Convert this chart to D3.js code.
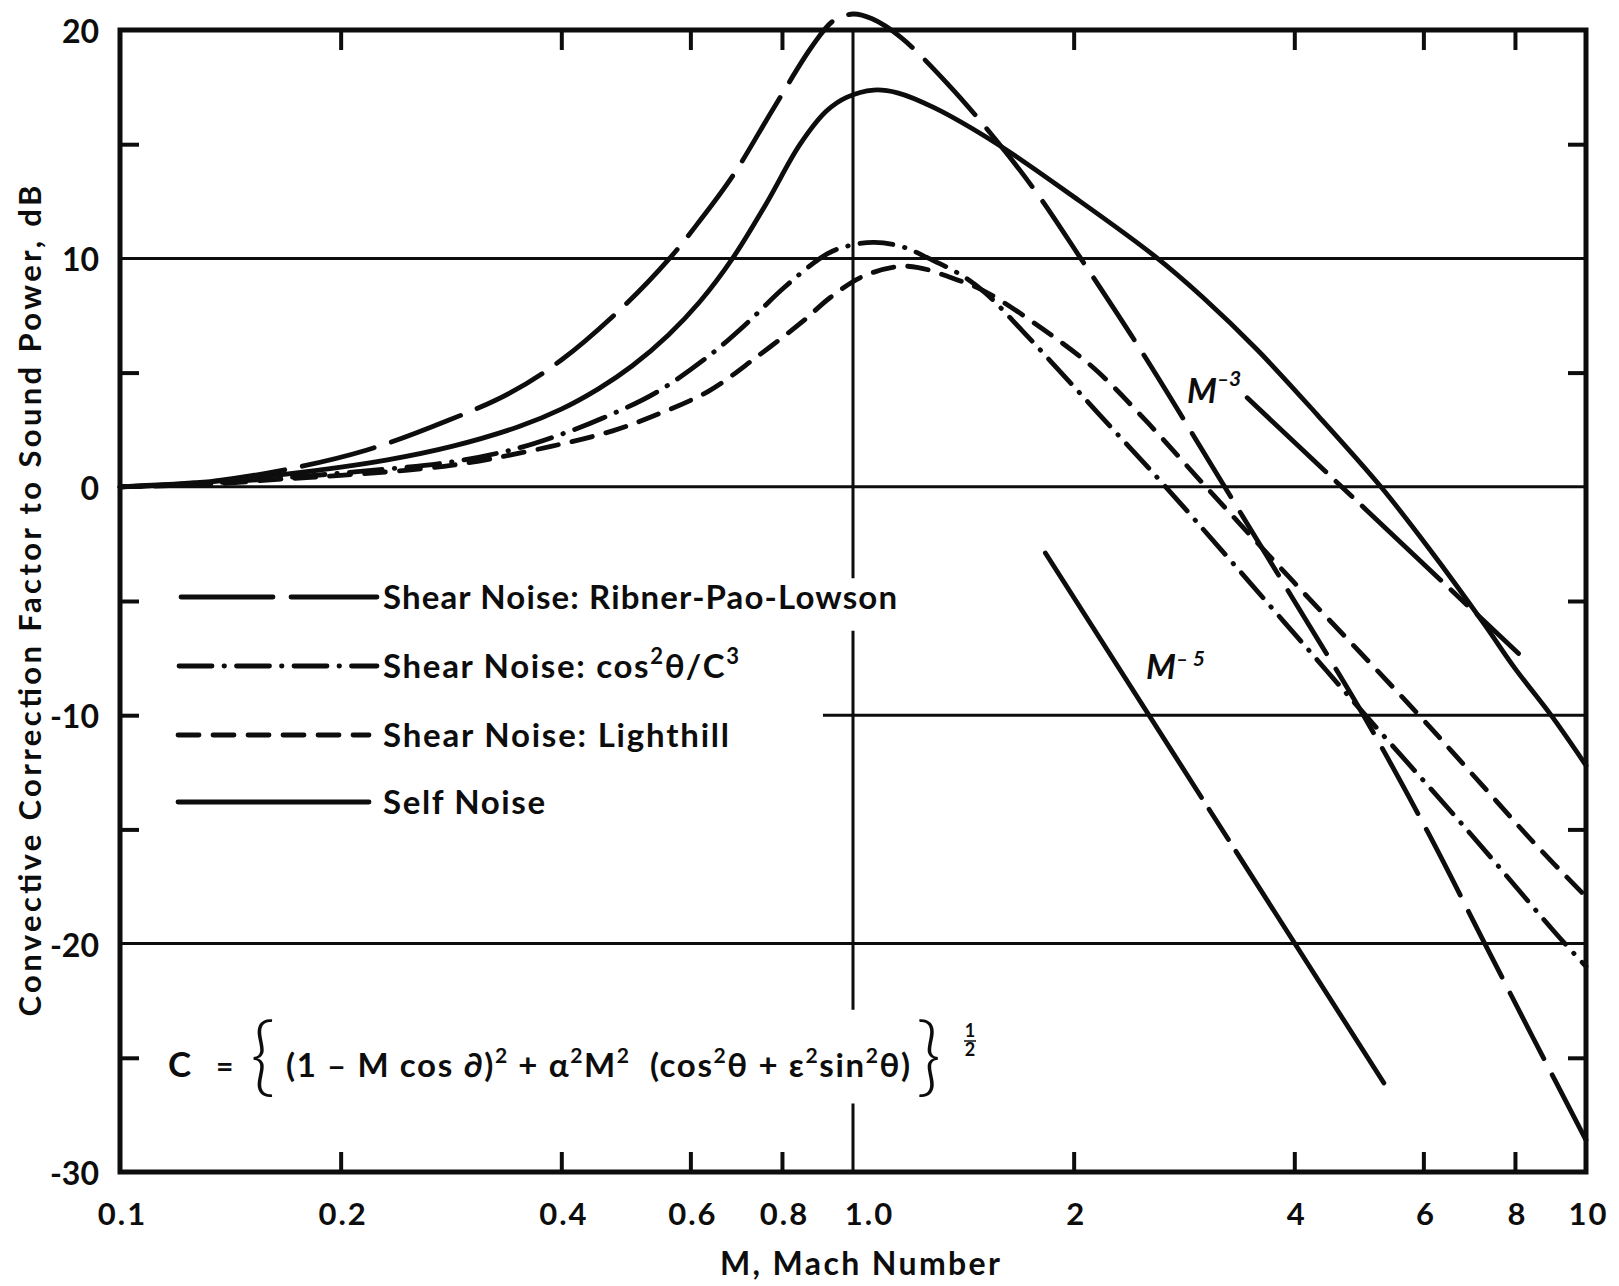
<!DOCTYPE html>
<html>
<head>
<meta charset="utf-8">
<script src="https://cdn.jsdelivr.net/npm/d3@7"></script>
<style>
  html, body { margin:0; padding:0; background:#ffffff; }
  svg { display:block; }
  text { font-family: Lato, "Open Sans", "DejaVu Sans", sans-serif; fill:#0d0d0d; white-space: pre; }
</style>
</head>
<body>
<svg id="chart" width="1619" height="1286" viewBox="0 0 1619 1286"></svg>
<script>
// ---------------- data ----------------
const xTickValues = [0.1, 0.2, 0.4, 0.6, 0.8, 1.0, 2, 4, 6, 8, 10];
const xTickLabels = ["0.1", "0.2", "0.4", "0.6", "0.8", "1.0", "2", "4", "6", "8", "10"];
const xInnerTicks = [0.2, 0.4, 0.6, 0.8, 2, 4, 6, 8];
const yTickValues = [20, 10, 0, -10, -20, -30];
const yTickLabels = ["20", "10", "0", "-10", "-20", "-30"];
const yHalfTicks = [15, 5, -5, -15, -25];
const gridLevels = [10, 0, -20];
const partialGrid = { level: -10, fromM: 0.91 };
const refM = 1.0;
const refSegments = [[20, -4.0], [-6.3, -22.9], [-27.0, -30]];

const seriesNames = ["Shear Noise: Ribner-Pao-Lowson", "Shear Noise: cos²θ/C³", "Shear Noise: Lighthill", "Self Noise"];

// [Mach number, dB]
const ribnerPaoLowson = [
  [0.1, 0], [0.13, 0.2], [0.165, 0.7], [0.2167, 1.6], [0.28, 2.9], [0.34, 4.1], [0.4, 5.55],
  [0.49, 8.0], [0.562, 10.0], [0.613, 11.5], [0.685, 13.6], [0.78, 16.6], [0.88, 19.3],
  [0.94, 20.4], [1.0, 20.7], [1.06, 20.5], [1.16, 19.7], [1.35, 17.6], [1.575, 15.1],
  [1.787, 12.8], [2.045, 10.0], [2.49, 5.8], [3.2, 0.1], [4.0, -5.0],
  [4.97, -10], [6.08, -15.1], [7.25, -19.9], [8.46, -24.1], [10, -28.6]
];
const cosThetaC3 = [
  [0.1, 0], [0.13, 0.15], [0.1685, 0.4], [0.2, 0.6], [0.2845, 1.1], [0.35, 1.7], [0.412, 2.45],
  [0.455, 3.0], [0.537, 4.1], [0.637, 5.75], [0.716, 7.15], [0.807, 8.75], [0.922, 10.2],
  [0.985, 10.55], [1.07, 10.7], [1.17, 10.5], [1.269, 10.0], [1.4, 9.3], [1.514, 8.5],
  [1.7, 6.85], [1.91, 5.1], [2.17, 3.15], [2.67, 0], [3.87, -5.9], [4.97, -9.9], [6.96, -15.2],
  [9.18, -19.7], [10, -21.0]
];
const lighthill = [
  [0.1, 0], [0.13, 0.1], [0.1685, 0.35], [0.2, 0.5], [0.2845, 0.95], [0.386, 1.76], [0.47, 2.45],
  [0.531, 3.07], [0.634, 4.17], [0.74, 5.7], [0.853, 7.23], [0.932, 8.3], [1.03, 9.2],
  [1.149, 9.64], [1.228, 9.6], [1.35, 9.2], [1.514, 8.55], [1.807, 6.95], [2.13, 5.2],
  [2.5, 2.95], [3.03, 0], [4.0, -4.2], [5.88, -9.9], [6.96, -12.5], [8.5, -15.6], [10, -17.95]
];
const selfNoise = [
  [0.1, 0], [0.13, 0.2], [0.1685, 0.55], [0.2307, 1.17], [0.2845, 1.78], [0.351, 2.65],
  [0.4, 3.4], [0.45, 4.3], [0.5, 5.3], [0.56, 6.65], [0.618, 8.1], [0.685, 10.0], [0.76, 12.35],
  [0.847, 15.0], [0.92, 16.45], [0.98, 17.05], [1.067, 17.37], [1.15, 17.25], [1.29, 16.6],
  [1.575, 15.0], [2.0, 12.7], [2.58, 10.1], [3.0, 8.3], [3.56, 6.0], [4.3, 3.15], [5.25, 0],
  [6.14, -2.8], [7.26, -6.0], [8.0, -7.95], [8.96, -10.0], [10, -12.2]
];
const slopeM3 = [[3.45, 3.9], [8.09, -7.3]];
const slopeM5 = [[1.83, -2.9], [5.3, -26.1]];

// ---------------- drawing ----------------
const svg = d3.select("#chart");
const W = 1619, H = 1286;
const plot = { left: 120, right: 1586, top: 30, bottom: 1172 };
const x = d3.scaleLog().domain([0.1, 10]).range([plot.left, plot.right]);
const y = d3.scaleLinear().domain([-30, 20]).range([plot.bottom, plot.top]);
const ink = "#0d0d0d";

svg.append("rect").attr("width", W).attr("height", H).attr("fill", "#fff");

// grid lines
const g = svg.append("g").attr("stroke", ink).attr("stroke-width", 3).attr("fill", "none");
gridLevels.forEach(v => {
  g.append("line").attr("x1", x(0.1)).attr("x2", x(10)).attr("y1", y(v)).attr("y2", y(v));
});
g.append("line").attr("x1", x(partialGrid.fromM)).attr("x2", x(10))
  .attr("y1", y(partialGrid.level)).attr("y2", y(partialGrid.level));
refSegments.forEach(s => {
  g.append("line").attr("x1", x(refM)).attr("x2", x(refM)).attr("y1", y(s[0])).attr("y2", y(s[1]));
});

// axes (ticks inward)
const axisStyle = sel => {
  sel.select(".domain").remove();
  sel.selectAll(".tick line").attr("stroke", ink).attr("stroke-width", 4);
};
svg.append("g").attr("transform", `translate(0,${plot.bottom})`)
  .call(d3.axisBottom(x).tickValues(xInnerTicks).tickSize(-20).tickFormat("")).call(axisStyle);
svg.append("g").attr("transform", `translate(0,${plot.top})`)
  .call(d3.axisTop(x).tickValues(xInnerTicks).tickSize(-20).tickFormat("")).call(axisStyle);
svg.append("g").attr("transform", `translate(${plot.left},0)`)
  .call(d3.axisLeft(y).tickValues(yHalfTicks.concat([partialGrid.level])).tickSize(-19).tickFormat("")).call(axisStyle);
svg.append("g").attr("transform", `translate(${plot.right},0)`)
  .call(d3.axisRight(y).tickValues(yHalfTicks).tickSize(-18).tickFormat("")).call(axisStyle);

// tick labels
const xl = svg.append("g").attr("transform", `translate(0,${plot.bottom + 38})`)
  .call(d3.axisBottom(x).tickValues(xTickValues).tickSize(0).tickFormat((d, i) => xTickLabels[i]));
xl.select(".domain").remove();
xl.selectAll("text").attr("font-size", 31).attr("font-weight", 700).attr("fill", ink)
  .attr("letter-spacing", 2).attr("dx", d => d === 1 ? 16 : 2).attr("dy", 0)
  .attr("dominant-baseline", "central").attr("font-family", "Lato, sans-serif");
const yl = svg.append("g").attr("transform", `translate(${plot.left - 18},0)`)
  .call(d3.axisLeft(y).tickValues(yTickValues).tickSize(0).tickFormat((d, i) => yTickLabels[i]));
yl.select(".domain").remove();
yl.selectAll("text").attr("font-size", 32).attr("font-weight", 700).attr("fill", ink)
  .attr("dy", 0).attr("dominant-baseline", "central").attr("font-family", "Lato, sans-serif");

// frame
svg.append("rect").attr("x", plot.left).attr("y", plot.top)
  .attr("width", plot.right - plot.left).attr("height", plot.bottom - plot.top)
  .attr("fill", "none").attr("stroke", ink).attr("stroke-width", 5);

// series
const styles = [
  { dash: "74,18" },
  { dash: "33,12,0.5,12" },
  { dash: "21,14" },
  { dash: null }
];
const line = d3.line().x(d => x(d[0])).y(d => y(d[1])).curve(d3.curveCatmullRom.alpha(0.5));
const series = [ribnerPaoLowson, cosThetaC3, lighthill, selfNoise];
const cg = svg.append("g").attr("fill", "none").attr("stroke", ink).attr("stroke-width", 4.8)
  .attr("stroke-linecap", "round").attr("stroke-linejoin", "round");
series.forEach((s, i) => {
  cg.append("path").attr("d", line(s)).attr("stroke-dasharray", styles[i].dash);
});
const straight = d3.line().x(d => x(d[0])).y(d => y(d[1]));
cg.append("path").attr("d", straight(slopeM3)).attr("stroke-dasharray", "108,14,22,14");
cg.append("path").attr("d", straight(slopeM5)).attr("stroke-dasharray", "290,14,36,14,1000");

// slope labels
const m3 = svg.append("text").attr("x", 1187).attr("y", 403).attr("font-size", 34)
  .attr("font-style", "italic").attr("font-weight", 700);
m3.append("tspan").text("M");
m3.append("tspan").attr("dy", -17).attr("font-size", 21).text("–3");
const m5 = svg.append("text").attr("x", 1146).attr("y", 679).attr("font-size", 34)
  .attr("font-style", "italic").attr("font-weight", 700);
m5.append("tspan").text("M");
m5.append("tspan").attr("dy", -13).attr("font-size", 21).text("– 5");

// legend
const legendRows = [597, 666, 735, 802];
const legendLineX = [[181, 377], [179, 377], [178, 369], [178, 369]];
const lg = svg.append("g");
seriesNames.forEach((name, i) => {
  lg.append("line").attr("x1", legendLineX[i][0]).attr("x2", legendLineX[i][1])
    .attr("y1", legendRows[i]).attr("y2", legendRows[i])
    .attr("stroke", ink).attr("stroke-width", 4.8).attr("stroke-linecap", "round")
    .attr("stroke-dasharray", i === 0 ? "92,18,200" : styles[i].dash);
});
const legendWidths = [514, 356, 346, 162];
seriesNames.forEach((name, i) => {
  const t = lg.append("text").attr("x", 383).attr("y", legendRows[i] + 12)
    .attr("font-size", 33).attr("font-weight", 700)
    .attr("textLength", legendWidths[i]).attr("lengthAdjust", "spacing");
  if (i === 1) {
    t.append("tspan").text("Shear Noise: cos");
    t.append("tspan").attr("dy", -14).attr("font-size", 22).text("2");
    t.append("tspan").attr("dy", 14).text("θ/C");
    t.append("tspan").attr("dy", -14).attr("font-size", 22).text("3");
  } else {
    t.text(name);
  }
});

// formula
const fy = 1077;
svg.append("text").attr("x", 168).attr("y", fy).attr("font-size", 35).attr("font-weight", 700).text("C");
svg.append("text").attr("x", 216).attr("y", fy).attr("font-size", 30).attr("font-weight", 700).text("=");
svg.append("text").attr("x", 250).attr("y", 1086).attr("font-size", 86).attr("font-weight", 300).text("{");
svg.append("text").attr("x", 916).attr("y", 1086).attr("font-size", 86).attr("font-weight", 300).text("}");
const ft = svg.append("text").attr("x", 286).attr("y", fy).attr("font-size", 33).attr("font-weight", 700)
  .attr("textLength", 624).attr("lengthAdjust", "spacing");
const parts = [
  ["(1 – M cos ∂)", 0], ["2", 1], [" + α", 0], ["2", 1], ["M", 0], ["2", 1],
  ["  (cos", 0], ["2", 1], ["θ + ε", 0], ["2", 1], ["sin", 0], ["2", 1], ["θ)", 0]
];
let raised = false;
parts.forEach(p => {
  const ts = ft.append("tspan").text(p[0]);
  if (p[1] && !raised) { ts.attr("dy", -14).attr("font-size", 21); raised = true; }
  else if (!p[1] && raised) { ts.attr("dy", 14); raised = false; }
  else if (p[1]) { ts.attr("font-size", 21); }
});
svg.append("text").attr("x", 970).attr("y", 1037).attr("font-size", 18).attr("font-weight", 700)
  .attr("text-anchor", "middle").text("1");
svg.append("line").attr("x1", 964).attr("x2", 976).attr("y1", 1041).attr("y2", 1041)
  .attr("stroke", ink).attr("stroke-width", 1.5);
svg.append("text").attr("x", 970).attr("y", 1056).attr("font-size", 18).attr("font-weight", 700)
  .attr("text-anchor", "middle").text("2");

// axis titles
svg.append("text").attr("x", 860).attr("y", 1262).attr("font-size", 32).attr("font-weight", 700)
  .attr("text-anchor", "middle").attr("dominant-baseline", "central")
  .attr("textLength", 280).attr("lengthAdjust", "spacing").text("M, Mach Number");
svg.append("text").attr("transform", "translate(29,601) rotate(-90)")
  .attr("font-size", 31).attr("font-weight", 700)
  .attr("text-anchor", "middle").attr("dominant-baseline", "central")
  .attr("textLength", 831).attr("lengthAdjust", "spacing")
  .text("Convective Correction Factor to Sound Power, dB");
</script>
</body>
</html>
